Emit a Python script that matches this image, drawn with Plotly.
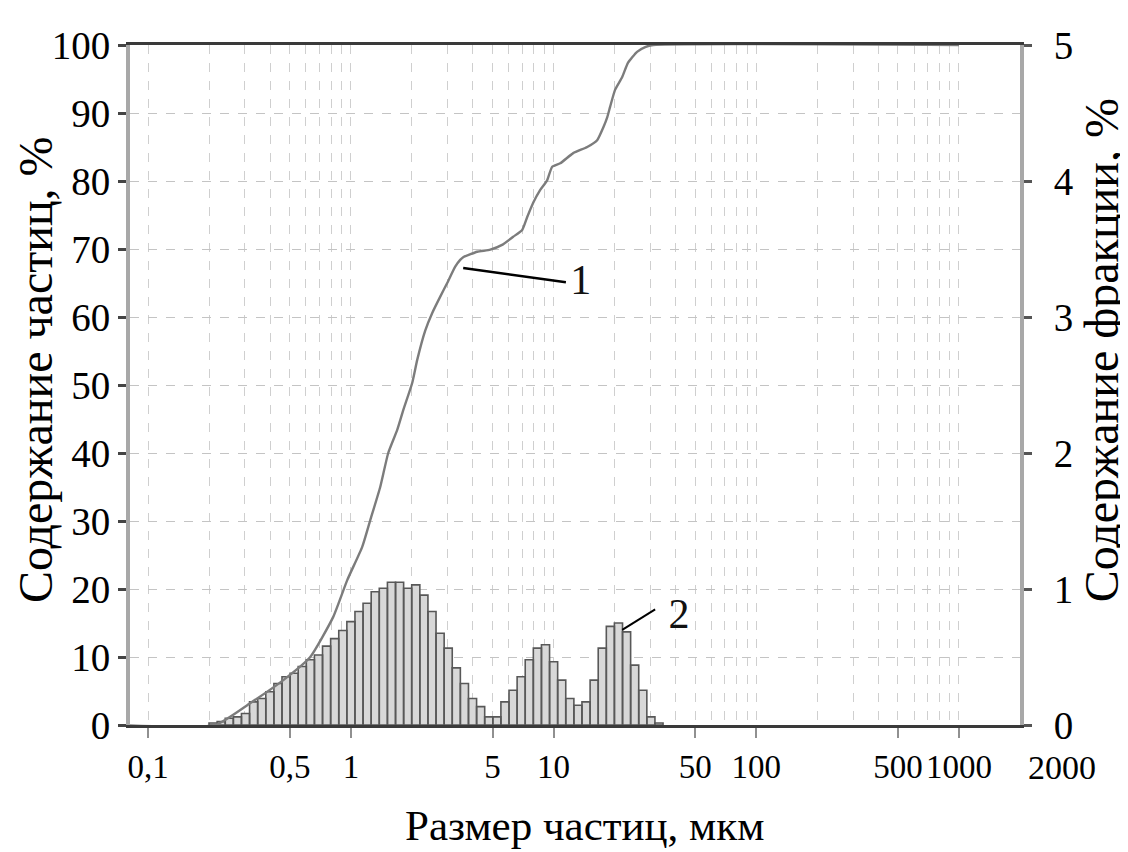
import math
import plotly.graph_objects as go

# ---- data ----
# histogram bins (edges, micrometres) and fraction content (%), right axis
bin_edges_um = [0.1995, 0.2188, 0.2399, 0.2630, 0.2884, 0.3162, 0.3467, 0.3802, 0.4169, 0.4571,
                0.5012, 0.5495, 0.6026, 0.6607, 0.7244, 0.7943, 0.8710, 0.9550, 1.047, 1.148,
                1.259, 1.380, 1.514, 1.660, 1.820, 1.995, 2.188, 2.399, 2.630, 2.884,
                3.162, 3.467, 3.802, 4.169, 4.571, 5.012, 5.495, 6.026, 6.607, 7.244,
                7.943, 8.710, 9.550, 10.47, 11.48, 12.59, 13.80, 15.14, 16.60, 18.20,
                19.95, 21.88, 23.99, 26.30, 28.84, 31.62, 34.67]
fraction_pct = [0.015, 0.025, 0.05, 0.06, 0.085, 0.17, 0.195, 0.245, 0.305, 0.355,
                0.38, 0.43, 0.48, 0.515, 0.58, 0.635, 0.695, 0.76, 0.835, 0.895,
                0.98, 1.005, 1.05, 1.05, 1.005, 1.03, 0.955, 0.835, 0.675, 0.565,
                0.42, 0.305, 0.195, 0.135, 0.06, 0.06, 0.17, 0.255, 0.355, 0.48,
                0.565, 0.59, 0.465, 0.33, 0.195, 0.145, 0.17, 0.33, 0.565, 0.725,
                0.75, 0.685, 0.44, 0.255, 0.06, 0.015]

# cumulative content curve (left axis)
cum_size_um = [0.07, 0.214, 0.318, 0.464, 0.63, 0.818, 0.959, 1.137, 1.245, 1.395,
               1.528, 1.692, 1.812, 2.006, 2.124, 2.326, 2.519, 2.759, 2.986, 3.27,
               3.46, 3.58, 4.20, 4.87, 5.57, 6.32, 7.00, 7.41, 7.93, 8.59,
               9.29, 9.84, 10.78, 12.5, 14.65, 16.4, 17.6, 18.4, 19.0, 20.1,
               21.8, 23.3, 25.8, 28.3, 31.0, 1000]
cum_pct = [0, 0, 3.2, 6.6, 10, 15.9, 21.3, 26.2, 30.1, 35,
           40, 43.4, 46.3, 50.3, 53.7, 58, 60.6, 63, 65, 67.4,
           68.4, 68.8, 69.6, 69.9, 70.6, 71.8, 72.8, 74.7, 76.8, 78.7,
           80.1, 82.1, 82.6, 84.1, 85, 86, 87.9, 89.4, 90.9, 93.4,
           95.3, 97.4, 99, 99.7, 100, 100]

x_tickvals = [0.1, 0.5, 1, 5, 10, 50, 100, 500, 1000]
x_ticktext = ["0,1", "0,5", "1", "5", "10", "50", "100", "500", "1000"]
x_end_label = "2000"
x_max = 2000
minor_grid_vals = [m * 10 ** k for k in range(-1, 3) for m in range(1, 10)] + [1000]

x_title = "Размер частиц, мкм"
y_left_title = "Содержание частиц, %"
y_right_title = "Содержание фракции, %"

# labels "1" and "2": leader line (point on mark -> label) and label position
label1_line_x = [3.58, 11.5]
label1_line_y = [67.2, 65.1]
label1_pos = (13.6, 65.0)
label2_line_x = [21.8, 31.7]
label2_line_y = [0.70, 0.85]
label2_pos = (41.5, 0.79)

FONT = "Liberation Serif"

# build histogram polygons from the bins
hx, hy = [], []
for lo, hi, v in zip(bin_edges_um[:-1], bin_edges_um[1:], fraction_pct):
    hx += [lo, lo, hi, hi, lo, None]
    hy += [0, v, v, 0, 0, None]

fig = go.Figure()
fig.add_trace(go.Scatter(x=hx, y=hy, mode="lines", fill="toself",
                         fillcolor="#d8d8d8", line=dict(color="#585858", width=1.6),
                         yaxis="y", hoverinfo="skip", showlegend=False))
fig.add_trace(go.Scatter(x=label2_line_x, y=label2_line_y, mode="lines",
                         line=dict(color="black", width=2), yaxis="y", showlegend=False))
fig.add_trace(go.Scatter(x=[label2_pos[0]], y=[label2_pos[1]], mode="text", text=["2"],
                         textfont=dict(family=FONT, size=42, color="#111"),
                         yaxis="y", showlegend=False))
fig.add_trace(go.Scatter(x=cum_size_um, y=cum_pct, mode="lines",
                         line=dict(color="#7c7c7c", width=2.4, shape="spline", smoothing=0.5),
                         yaxis="y2", showlegend=False))
fig.add_trace(go.Scatter(x=label1_line_x, y=label1_line_y, mode="lines",
                         line=dict(color="black", width=2.5), yaxis="y2", showlegend=False))
fig.add_trace(go.Scatter(x=[label1_pos[0]], y=[label1_pos[1]], mode="text", text=["1"],
                         textfont=dict(family=FONT, size=42, color="#111"),
                         yaxis="y2", showlegend=False))

fig.update_layout(
    width=1128, height=852,
    margin=dict(l=122, r=116, t=37, b=135, autoexpand=False),
    paper_bgcolor="white", plot_bgcolor="white",
    font=dict(family=FONT, size=36, color="black"),
    xaxis=dict(
        type="log", range=[math.log10(0.0813), math.log10(x_max)],
        tickvals=x_tickvals, ticktext=x_ticktext, tickangle=0,
        ticks="outside", ticklen=10, tickwidth=2, tickcolor="#909090",
        showgrid=False, zeroline=False, automargin=False,
        showline=True, linecolor="#3a3a3a", linewidth=3, mirror=True,
        tickfont=dict(family=FONT, size=33),
        minor=dict(tickvals=minor_grid_vals, showgrid=True, gridcolor="#cfcfcf",
                   griddash="dash", gridwidth=1, ticks=""),
    ),
    yaxis=dict(
        side="right", range=[0, 5], dtick=1,
        ticks="outside", ticklen=8, tickwidth=3, tickcolor="#555",
        showgrid=False, zeroline=False, automargin=False,
        showline=True, linecolor="#a8a8a8", linewidth=4,
        tickfont=dict(family=FONT, size=39),
        ticklabelstandoff=14,
    ),
    yaxis2=dict(
        side="left", overlaying="y", range=[0, 100], dtick=10,
        ticks="outside", ticklen=8, tickwidth=3, tickcolor="#444",
        showgrid=True, gridcolor="#c4c4c4", griddash="dash", gridwidth=1,
        zeroline=False, automargin=False,
        showline=True, linecolor="#a8a8a8", linewidth=4,
        tickfont=dict(family=FONT, size=39),
    ),
    annotations=[
        dict(text=x_end_label, xref="paper", yref="paper", x=1, xshift=6, y=0, yshift=-22,
             xanchor="left", yanchor="top", showarrow=False,
             font=dict(family=FONT, size=34)),
        dict(text=x_title, xref="paper", yref="paper", x=0.511, y=0, yshift=-100,
             xanchor="center", yanchor="middle", showarrow=False,
             font=dict(family=FONT, size=43)),
        dict(text=y_left_title, xref="paper", yref="paper", x=0, xshift=-95, y=0.522,
             xanchor="center", yanchor="middle", textangle=-90, showarrow=False,
             font=dict(family=FONT, size=48)),
        dict(text=y_right_title, xref="paper", yref="paper", x=1, xshift=81, y=0.551,
             xanchor="center", yanchor="middle", textangle=-90, showarrow=False,
             font=dict(family=FONT, size=48)),
    ],
)

fig.write_html("out.html")
